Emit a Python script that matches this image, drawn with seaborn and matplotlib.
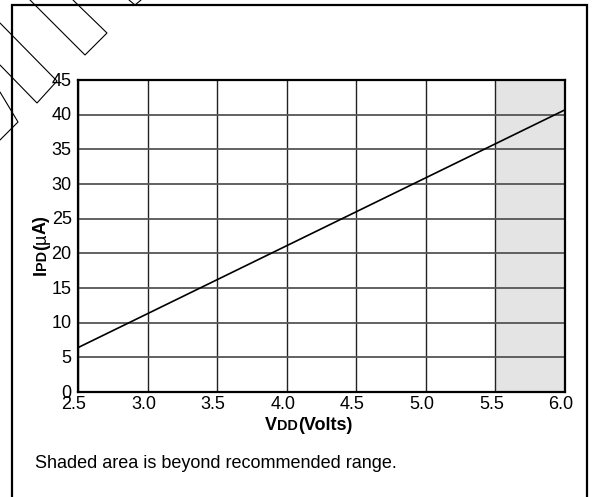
import numpy as np
import pandas as pd
import matplotlib
matplotlib.use('Agg')
import matplotlib.pyplot as plt
from matplotlib.lines import Line2D
from matplotlib.transforms import ScaledTranslation
import seaborn as sns

# power-down current vs supply voltage
vdd = [2.5, 3.0, 3.5, 4.0, 4.5, 5.0, 5.5, 6.0]
ipd = [6.4, 11.3, 16.2, 21.1, 26.0, 30.9, 35.8, 40.7]
x_ticks = [2.5, 3.0, 3.5, 4.0, 4.5, 5.0, 5.5, 6.0]
y_ticks = [0, 5, 10, 15, 20, 25, 30, 35, 40, 45]
shaded_range = [5.5, 6.0]
footnote = 'Shaded area is beyond recommended range.'

W, H = 593, 497

sns.set_theme(style='white')
plt.rcParams['font.family'] = ['Liberation Sans', 'DejaVu Sans']

df = pd.DataFrame({'VDD': vdd, 'IPD': ipd})

fig = plt.figure(figsize=(W / 100, H / 100), dpi=100)
ax = fig.add_axes([78 / W, 1 - 392 / H, 487 / W, 312 / H])

ax.axvspan(shaded_range[0], shaded_range[1], color='#e4e4e4', zorder=0, lw=0)
sns.lineplot(data=df, x='VDD', y='IPD', color='black', lw=1.2, ax=ax, zorder=3)

ax.set_xlim(x_ticks[0], x_ticks[-1])
ax.set_ylim(y_ticks[0], y_ticks[-1])
ax.set_xticks(x_ticks)
ax.set_xticklabels([f'{v:.1f}' for v in x_ticks])
ax.set_yticks(y_ticks)
ax.set_xlabel('')
ax.set_ylabel('')

ax.grid(axis='x', color='#222222', lw=1.0)
ax.grid(axis='y', color='#555555', lw=1.3)
ax.set_axisbelow(True)

for sp in ax.spines.values():
    sp.set_color('black')
    sp.set_linewidth(1.6)
    sp.set_zorder(4)

ax.tick_params(axis='both', length=0, labelsize=13, labelcolor='black')
ax.tick_params(axis='x', pad=2.8)
ax.tick_params(axis='y', pad=4.5)
for lbl in ax.get_xticklabels():
    lbl.set_transform(lbl.get_transform() + ScaledTranslation(-4 / 100, 0, fig.dpi_scale_trans))
for lbl in ax.get_yticklabels():
    lbl.set_transform(lbl.get_transform() + ScaledTranslation(0, 1 / 100, fig.dpi_scale_trans))

renderer = fig.canvas.get_renderer()


def compose(pieces, x0, y0, rotation=0):
    """Lay text pieces of mixed size along one baseline (pixel coords)."""
    x, y = x0, y0
    for txt, size, weight in pieces:
        t = fig.text(x / W, y / H, txt, fontsize=size, fontweight=weight,
                     rotation=rotation, rotation_mode='anchor',
                     ha='left', va='baseline', color='black')
        ext = t.get_window_extent(renderer)
        if rotation == 0:
            x += ext.width
        else:
            y += ext.height


compose([('V', 13, 'bold'), ('DD', 10.4, 'bold'), ('(Volts)', 13, 'bold')],
        265, H - 430)
compose([('I', 13, 'bold'), ('PD', 10.4, 'bold'), ('(', 13, 'bold'),
         ('\u00b5', 13, 'normal'), ('A)', 13, 'bold')],
        46, H - 275, rotation=90)

fig.text(35 / W, 1 - 468 / H, footnote, fontsize=13, va='baseline', color='black')

# outer frame of the datasheet figure
frame = [[(12, 500), (12, 5), (587, 5), (587, 500)]]
# stray rotated boxes from the scan in the top-left corner
deco = [
    [(30, 0), (85, 55), (107, 33), (73, 0)],
    [(0, 23), (57, 81), (37, 103), (0, 65)],
    [(0, 92), (18, 122), (0, 140)],
    [(129, 0), (135, 5), (141, 0)],
]


def add_path(pts, lw):
    xs = [p[0] / W for p in pts]
    ys = [1 - p[1] / H for p in pts]
    fig.add_artist(Line2D(xs, ys, transform=fig.transFigure, color='black', lw=lw,
                          solid_joinstyle='miter'))


for pts in frame:
    add_path(pts, 1.6)
for pts in deco:
    add_path(pts, 0.8)

fig.savefig('out.png', dpi=100, facecolor='white')
plt.close(fig)
